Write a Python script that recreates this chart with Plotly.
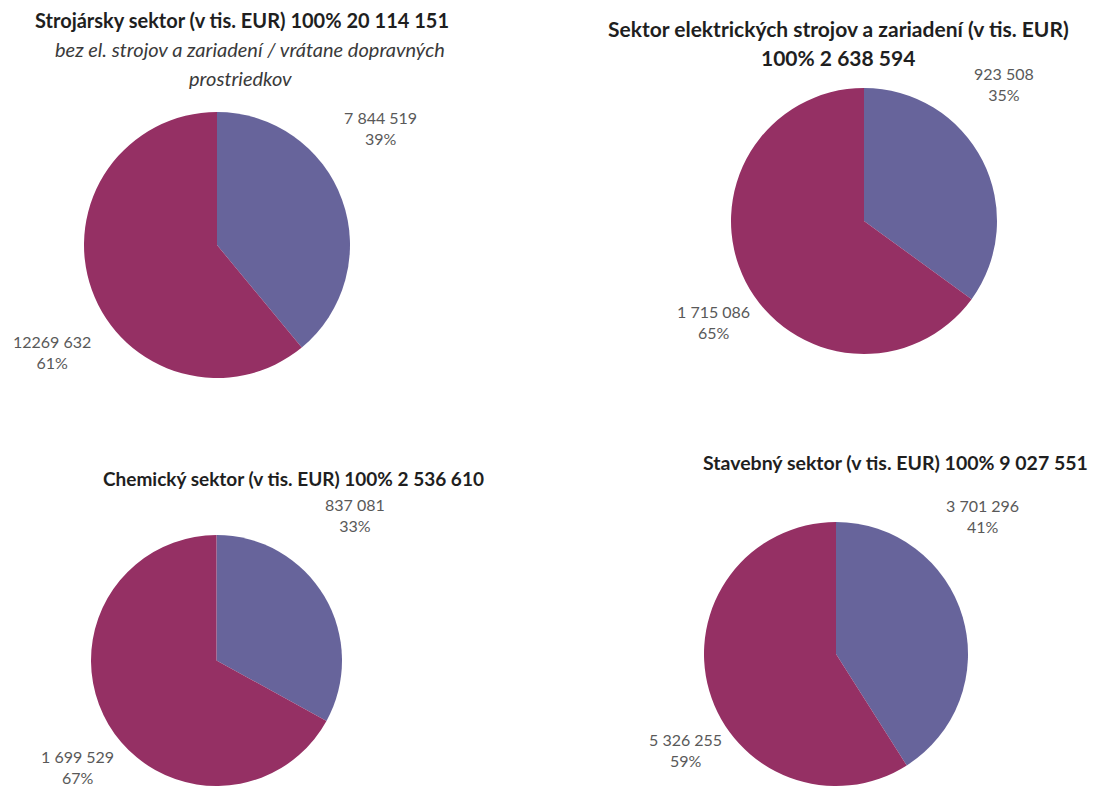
import plotly.graph_objects as go

W, H = 1093, 786

# ---- data ----
title_lines = [
    ["Strojársky sektor (v tis. EUR) 100% 20 114 151"],
    ["Sektor elektrických strojov a zariadení (v tis. EUR)", "100% 2 638 594"],
    ["Chemický sektor (v tis. EUR) 100% 2 536 610"],
    ["Stavebný sektor (v tis. EUR) 100% 9 027 551"],
]
subtitle_lines = ["bez el. strojov a zariadení / vrátane dopravných", "prostriedkov"]
segments = ["A", "B"]
values_stroj = [7844519, 12269632]
values_elektro = [923508, 1715086]
values_chem = [837081, 1699529]
values_stav = [3701296, 5326255]
value_labels_stroj = ["7 844 519", "12269 632"]
value_labels_elektro = ["923 508", "1 715 086"]
value_labels_chem = ["837 081", "1 699 529"]
value_labels_stav = ["3 701 296", "5 326 255"]

colors = ["#67649b", "#953064"]

# ---- layout geometry (pixels) ----
pie_boxes = [  # x0, x1, ytop, ybottom
    (84, 350, 112, 378),
    (731, 997, 87, 355),
    (91, 342, 535, 786),
    (704, 968, 522, 786),
]
title_pos = [[(242, 20)], [(838, 29), (838, 58)], [(293, 478)], [(895, 463)]]
title_sizes = [20, 21, 19, 19.5]
subtitle_pos = [(250, 49), (240, 78)]
label_pos = [
    [(380, 128), (52, 352)],
    [(1004, 84), (713, 322)],
    [(355, 515), (77, 767)],
    [(982, 516), (685, 750)],
]

all_values = [values_stroj, values_elektro, values_chem, values_stav]
all_vlabels = [value_labels_stroj, value_labels_elektro, value_labels_chem, value_labels_stav]
FONT = "Lato, Carlito, sans-serif"

fig = go.Figure()
annotations = []


def ann(px, py, text, size, color):
    return dict(
        x=px / W, y=1 - py / H, xref="paper", yref="paper",
        text=text, showarrow=False, xanchor="center", yanchor="middle", align="center",
        font=dict(family=FONT, size=size, color=color),
    )


for i, vals in enumerate(all_values):
    x0, x1, yt, yb = pie_boxes[i]
    fig.add_trace(go.Pie(
        labels=segments, values=vals, sort=False, direction="clockwise", rotation=0,
        marker=dict(colors=colors, line=dict(width=0)),
        textinfo="none", hoverinfo="label+value+percent",
        domain=dict(x=[x0 / W, x1 / W], y=[1 - yb / H, 1 - yt / H]),
        showlegend=False,
    ))
    total = sum(vals)
    for j, v in enumerate(vals):
        px, py = label_pos[i][j]
        pct = round(100 * v / total)
        annotations.append(ann(px, py, f"{all_vlabels[i][j]}<br>{pct}%", 16, "#595959"))
    for line, (tx, ty) in zip(title_lines[i], title_pos[i]):
        annotations.append(ann(tx, ty, f"<b>{line}</b>", title_sizes[i], "#1f1f1f"))

for line, (sx, sy) in zip(subtitle_lines, subtitle_pos):
    annotations.append(ann(sx, sy, f"<i>{line}</i>", 20, "#3a3a3a"))

fig.update_layout(
    width=W, height=H, margin=dict(l=0, r=0, t=0, b=0),
    paper_bgcolor="white", plot_bgcolor="white",
    annotations=annotations,
)
fig.write_html("out.html")
